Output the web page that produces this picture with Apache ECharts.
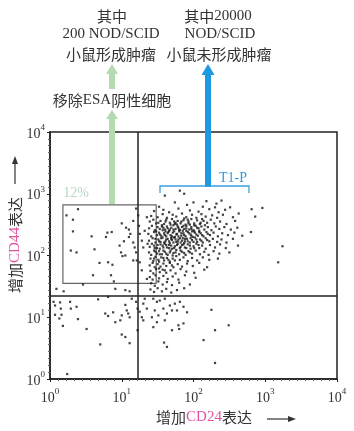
<!DOCTYPE html>
<html><head><meta charset="utf-8">
<script src="https://cdn.jsdelivr.net/npm/echarts@6/dist/echarts.min.js"></script>
<style>html,body{margin:0;padding:0;background:#fff}#c{width:354px;height:431px}</style>
</head><body><div id="c"></div>
<script>
// axis decades (log10 of fluorescence intensity)
var tickExponents = [0, 1, 2, 3, 4];
var quadrantCD24 = 1.22;   // log10 CD24 boundary (~16)
var quadrantCD44 = 1.35;   // log10 CD44 boundary (~22)
var gateBox = [[0.18, 1.55], [1.48, 2.82]]; // 12% gate (log10 CD24, log10 CD44)

// cells: [log10 CD24, log10 CD44]
var gateCells = [[0.39,2.75],[0.23,2.65],[0.32,2.58],[0.32,2.39],[0.58,2.31],[0.80,2.37],[0.86,2.38],[0.78,2.30],[0.62,2.10],[0.37,2.05],[0.29,2.08],[0.97,2.16],[1.00,2.52],[1.06,2.45],[1.10,2.42],[1.12,2.35],[1.10,2.30],[1.16,2.56],[1.16,2.21],[1.03,2.23],[0.99,2.05],[1.05,2.00],[1.18,2.13],[1.20,2.05],[1.23,2.65],[1.24,2.48],[1.25,2.35],[1.28,2.24],[1.32,2.40],[1.35,2.62],[1.36,2.19],[1.30,2.13],[1.20,2.76],[0.69,1.88],[0.81,1.89],[0.87,1.85],[0.60,1.68],[0.85,1.68],[0.89,1.58],[1.01,1.99],[1.16,1.92],[1.21,1.92],[1.28,1.76],[1.25,1.89],[1.35,1.62]];
var lowLeftCells = [[0.09,1.46],[0.19,1.42],[0.46,1.53],[0.91,1.46],[1.05,1.44],[1.11,1.42],[1.14,1.30],[0.67,1.29],[0.81,1.33],[0.05,1.25],[0.14,1.24],[0.07,1.19],[0.28,1.25],[0.15,1.14],[0.29,1.14],[0.37,1.17],[0.07,1.04],[0.16,1.04],[0.13,0.98],[0.39,0.97],[0.18,0.86],[0.51,0.81],[0.77,1.06],[0.81,1.02],[0.88,1.08],[0.91,0.92],[0.98,0.95],[1.00,1.03],[1.07,1.11],[1.09,1.06],[1.11,1.00],[1.05,1.20],[1.00,0.72],[1.05,0.68],[1.11,0.58],[0.70,0.56],[0.24,0.08]];
var lowRightCells = [[1.20,1.25],[1.22,1.14],[1.25,1.09],[1.28,1.00],[1.30,1.22],[1.35,1.14],[1.32,1.30],[1.22,0.79],[1.30,0.95],[1.44,1.30],[1.49,1.25],[1.53,1.27],[1.60,1.30],[1.67,1.19],[1.74,1.22],[1.81,1.25],[1.86,1.17],[1.58,1.14],[1.46,1.11],[1.42,1.00],[1.51,1.03],[1.63,1.06],[1.70,1.11],[1.77,1.11],[1.91,1.08],[1.49,0.92],[1.60,0.95],[1.86,0.90],[1.79,0.87],[2.25,1.12],[2.49,0.87],[1.44,0.84],[1.70,0.79],[1.80,0.81],[2.30,0.79],[1.59,0.59],[1.63,0.52],[2.14,0.63],[2.30,0.26]];
var sparseHighCells = [[2.81,2.75],[2.96,2.77],[2.86,2.63],[2.80,2.38],[3.24,2.15],[3.18,1.89],[1.81,3.05],[1.87,3.00],[1.60,2.97],[1.74,2.86],[1.91,2.82],[2.00,2.86],[2.18,2.88],[2.32,2.84],[2.39,2.89],[2.51,2.78],[2.30,2.78]];
var clusterCells = [
[1.45,2.72],[1.58,2.74],[1.66,2.70],[1.79,2.76],[1.95,2.73],[2.07,2.71],[2.22,2.75],[2.35,2.70],[2.44,2.74],[1.52,2.79],[2.13,2.79],
[1.41,2.64],[1.50,2.62],[1.57,2.67],[1.63,2.61],[1.71,2.66],[1.76,2.63],[1.84,2.68],[1.90,2.62],[1.98,2.66],[2.04,2.61],[2.11,2.67],[2.17,2.63],[2.26,2.65],[2.33,2.61],[2.41,2.66],[2.55,2.62],[2.63,2.68],[1.87,2.60],
[1.39,2.55],[1.44,2.58],[1.48,2.52],[1.54,2.56],[1.59,2.51],[1.62,2.58],[1.67,2.53],[1.70,2.59],[1.74,2.51],[1.78,2.56],[1.82,2.52],[1.86,2.57],[1.89,2.50],[1.93,2.55],[1.97,2.59],[2.01,2.52],[2.05,2.57],[2.09,2.51],[2.14,2.56],[2.19,2.53],[2.24,2.58],[2.29,2.52],[2.37,2.55],[2.46,2.51],[2.58,2.56],[1.73,2.55],[1.92,2.58],[2.12,2.59],
[1.38,2.44],[1.42,2.48],[1.46,2.41],[1.50,2.46],[1.53,2.43],[1.56,2.49],[1.60,2.42],[1.63,2.47],[1.66,2.40],[1.69,2.45],[1.72,2.49],[1.75,2.43],[1.78,2.47],[1.81,2.41],[1.84,2.46],[1.87,2.43],[1.90,2.48],[1.94,2.42],[1.97,2.46],[2.00,2.41],[2.03,2.48],[2.07,2.44],[2.11,2.47],[2.15,2.42],[2.20,2.46],[2.25,2.41],[2.31,2.47],[2.36,2.43],[2.43,2.46],[2.52,2.42],[2.61,2.45],[1.58,2.45],[1.77,2.50],[1.95,2.50],[2.08,2.40],
[1.37,2.35],[1.41,2.31],[1.45,2.38],[1.49,2.33],[1.52,2.37],[1.55,2.32],[1.59,2.36],[1.62,2.31],[1.65,2.38],[1.68,2.33],[1.71,2.37],[1.74,2.30],[1.77,2.35],[1.80,2.39],[1.83,2.32],[1.86,2.36],[1.89,2.31],[1.92,2.38],[1.96,2.34],[1.99,2.30],[2.02,2.37],[2.06,2.32],[2.10,2.36],[2.14,2.31],[2.18,2.38],[2.23,2.33],[2.28,2.37],[2.34,2.31],[2.40,2.36],[2.48,2.33],[2.57,2.37],[2.68,2.32],[1.61,2.39],[1.79,2.31],[1.98,2.39],[1.85,2.40],
[1.38,2.24],[1.43,2.28],[1.47,2.21],[1.51,2.26],[1.54,2.22],[1.57,2.29],[1.61,2.23],[1.64,2.27],[1.67,2.20],[1.70,2.25],[1.73,2.29],[1.76,2.22],[1.79,2.26],[1.82,2.21],[1.85,2.28],[1.88,2.23],[1.91,2.27],[1.95,2.21],[1.98,2.25],[2.02,2.29],[2.05,2.22],[2.09,2.26],[2.13,2.21],[2.17,2.28],[2.22,2.23],[2.27,2.27],[2.33,2.22],[2.39,2.26],[2.46,2.21],[2.55,2.27],[1.69,2.29],[1.87,2.20],
[1.39,2.14],[1.42,2.19],[1.46,2.12],[1.50,2.17],[1.53,2.11],[1.57,2.16],[1.60,2.19],[1.63,2.13],[1.66,2.17],[1.70,2.11],[1.74,2.15],[1.78,2.19],[1.81,2.12],[1.84,2.17],[1.88,2.13],[1.92,2.18],[1.96,2.11],[2.00,2.15],[2.04,2.19],[2.08,2.12],[2.12,2.16],[2.17,2.11],[2.23,2.17],[2.30,2.13],[2.37,2.18],[2.45,2.12],[2.62,2.16],
[1.38,2.05],[1.41,2.01],[1.45,2.08],[1.49,2.03],[1.52,2.07],[1.56,2.02],[1.60,2.06],[1.64,2.01],[1.68,2.08],[1.72,2.04],[1.76,2.09],[1.80,2.02],[1.84,2.06],[1.89,2.01],[1.93,2.07],[1.98,2.03],[2.03,2.08],[2.09,2.02],[2.15,2.06],[2.21,2.01],[2.28,2.07],[2.36,2.03],[2.50,2.05],
[1.40,1.95],[1.44,1.91],[1.47,1.98],[1.51,1.93],[1.55,1.97],[1.59,1.92],[1.63,1.96],[1.67,1.90],[1.71,1.95],[1.76,1.99],[1.81,1.93],[1.86,1.97],[1.92,1.91],[1.98,1.96],[2.05,1.92],[2.13,1.97],[2.22,1.93],[2.34,1.95],
[1.39,1.84],[1.43,1.88],[1.46,1.81],[1.50,1.86],[1.54,1.82],[1.58,1.87],[1.62,1.83],[1.67,1.88],[1.72,1.81],[1.78,1.86],[1.84,1.82],[1.91,1.87],[1.99,1.83],[2.08,1.88],[2.19,1.81],
[1.40,1.75],[1.44,1.71],[1.48,1.78],[1.53,1.73],[1.57,1.77],[1.62,1.72],[1.68,1.76],[1.75,1.71],[1.82,1.78],[1.90,1.74],[2.01,1.72],[2.15,1.77],
[1.39,1.65],[1.43,1.61],[1.47,1.68],[1.52,1.63],[1.58,1.67],[1.64,1.62],[1.71,1.66],[1.79,1.61],[1.88,1.68],[2.03,1.64],
[1.41,1.55],[1.46,1.51],[1.51,1.58],[1.57,1.53],[1.63,1.57],[1.70,1.52],[1.80,1.56],[1.95,1.53],
[1.40,1.45],[1.45,1.41],[1.50,1.47],[1.56,1.42],[1.62,1.46],[1.69,1.40],[1.77,1.44],[1.87,1.47]
];
// densest core of the CD44+/CD24+ population
var coreCells = [
[1.51,2.53],[1.56,2.47],[1.61,2.55],[1.64,2.44],[1.68,2.50],[1.72,2.42],[1.75,2.53],[1.79,2.45],[1.83,2.55],[1.86,2.48],[1.90,2.44],[1.93,2.52],[1.97,2.43],[2.01,2.49],[2.05,2.45],[2.10,2.53],[2.16,2.49],
[1.48,2.39],[1.53,2.34],[1.57,2.41],[1.60,2.33],[1.64,2.36],[1.67,2.42],[1.70,2.31],[1.73,2.39],[1.76,2.34],[1.80,2.42],[1.83,2.36],[1.87,2.33],[1.90,2.40],[1.94,2.36],[1.97,2.32],[2.01,2.39],[2.04,2.34],[2.08,2.38],[2.12,2.33],[2.20,2.35],
[1.47,2.27],[1.52,2.23],[1.55,2.28],[1.59,2.21],[1.62,2.26],[1.66,2.23],[1.69,2.27],[1.72,2.21],[1.75,2.26],[1.78,2.23],[1.81,2.28],[1.84,2.24],[1.88,2.27],[1.92,2.23],[1.96,2.28],[2.00,2.22],[2.04,2.26],[2.11,2.24],[2.19,2.25],
[1.45,2.16],[1.49,2.12],[1.54,2.18],[1.58,2.13],[1.62,2.17],[1.66,2.12],[1.69,2.16],[1.73,2.12],[1.77,2.17],[1.82,2.14],[1.86,2.18],[1.90,2.12],[1.95,2.16],[2.01,2.12],[2.07,2.17],
[1.47,2.06],[1.53,2.02],[1.58,2.08],[1.62,2.03],[1.67,2.05],[1.71,2.00],[1.75,2.05],[1.82,2.08],[1.87,2.04],[1.95,2.05],
[1.45,1.95],[1.52,1.90],[1.58,1.96],[1.65,1.93],[1.74,1.92],[1.52,1.79],[1.60,1.76],[1.70,1.84]
];
var allCells = gateCells.concat(lowLeftCells, lowRightCells, sparseHighCells, clusterCells, coreCells);

var SERIF = '"Liberation Serif","DejaVu Serif",serif';
var CJK = '"Noto Sans CJK SC","Noto Sans",sans-serif';

var chart = echarts.init(document.getElementById('c'), null, {renderer: 'canvas'});
function tickLabel(v) { return '{b|10}{s|' + v + '}'; }
var richTick = {
  b: {fontFamily: SERIF, fontSize: 14, color: '#333', lineHeight: 18, verticalAlign: 'bottom'},
  s: {fontFamily: SERIF, fontSize: 9, color: '#333', verticalAlign: 'top', lineHeight: 18}
};
var axisCommon = {
  type: 'value', min: 0, max: 4, interval: 1,
  axisLine: {show: true, onZero: false, lineStyle: {color: '#222', width: 1.5}},
  axisTick: {show: true, length: 3, lineStyle: {color: '#222'}},
  minorTick: {show: true, splitNumber: 9, length: 2, lineStyle: {color: '#666'}},
  splitLine: {show: false},
  axisLabel: {formatter: tickLabel, rich: richTick}
};
var head = function (x, y, dir, w, l) { // arrow head polygon
  if (dir === 'up') return [[x, y], [x - w, y + l], [x + w, y + l]];
  return [[x, y], [x - l, y - w], [x - l, y + w]];
};
function mixed(c, l) { return {c: {font: '15px ' + CJK, fill: '#333', lineHeight: 20}, l: {font: '15px ' + SERIF, fill: l || '#333', lineHeight: 20}}; }
chart.setOption({
  animation: false,
  grid: {left: 50, right: 17, top: 132, bottom: 52, show: true, borderColor: '#222', borderWidth: 1.5},
  xAxis: Object.assign({}, axisCommon, {axisLabel: {formatter: tickLabel, rich: richTick, margin: 8}}),
  yAxis: Object.assign({}, axisCommon, {axisLabel: {formatter: tickLabel, rich: richTick, margin: 5}}),
  series: [{
    type: 'scatter', data: allCells, symbol: 'rect', symbolSize: 2.2,
    itemStyle: {color: '#111'}, silent: true,
    markLine: {
      silent: true, symbol: 'none', label: {show: false},
      lineStyle: {color: '#222', width: 1.5, type: 'solid'},
      data: [{xAxis: quadrantCD24}, {yAxis: quadrantCD44}]
    },
    markArea: {
      silent: true, label: {show: false},
      itemStyle: {color: 'rgba(0,0,0,0)', borderColor: '#666', borderWidth: 1.2},
      data: [[{coord: gateBox[0]}, {coord: gateBox[1]}]]
    }
  }],
  graphic: [
    // green arrows (gate -> ESA removal -> tumours)
    {type: 'rect', shape: {x: 109, y: 116, width: 6, height: 88}, style: {fill: '#b3dab1'}, silent: true},
    {type: 'polygon', shape: {points: head(112, 110, 'up', 6, 9)}, style: {fill: '#b3dab1'}, silent: true},
    {type: 'rect', shape: {x: 109, y: 73, width: 6, height: 16}, style: {fill: '#b3dab1'}, silent: true},
    {type: 'polygon', shape: {points: head(112, 64, 'up', 6, 10)}, style: {fill: '#b3dab1'}, silent: true},
    // blue arrow
    {type: 'rect', shape: {x: 205, y: 74, width: 6, height: 113}, style: {fill: '#1e98e0'}, silent: true},
    {type: 'polygon', shape: {points: head(208, 64, 'up', 6.5, 11)}, style: {fill: '#1e98e0'}, silent: true},
    // T1-P bracket
    {type: 'polyline', shape: {points: [[160, 193], [160, 186], [249, 186], [249, 193]]}, style: {stroke: '#3aa0e0', lineWidth: 1.3, fill: null}, silent: true},
    {type: 'text', x: 233, y: 178, style: {text: 'T1-P', font: '14px ' + SERIF, fill: '#2f9be0', align: 'center', verticalAlign: 'middle'}, silent: true},
    {type: 'text', x: 76, y: 193, style: {text: '12%', font: '14px ' + SERIF, fill: '#b9d6c2', align: 'center', verticalAlign: 'middle'}, silent: true},
    // top texts
    {type: 'text', x: 112, y: 16, style: {text: '其中', font: '15px ' + CJK, fill: '#333', align: 'center', verticalAlign: 'middle'}, silent: true},
    {type: 'text', x: 111, y: 34, style: {text: '200 NOD/SCID', font: '15px ' + SERIF, fill: '#333', align: 'center', verticalAlign: 'middle'}, silent: true},
    {type: 'text', x: 111, y: 54, style: {text: '小鼠形成肿瘤', font: '15px ' + CJK, fill: '#333', align: 'center', verticalAlign: 'middle'}, silent: true},
    {type: 'text', x: 218, y: 16, style: {text: '{c|其中}{l|20000}', rich: mixed(), align: 'center', verticalAlign: 'middle'}, silent: true},
    {type: 'text', x: 220, y: 34, style: {text: 'NOD/SCID', font: '15px ' + SERIF, fill: '#333', align: 'center', verticalAlign: 'middle'}, silent: true},
    {type: 'text', x: 219, y: 54, style: {text: '小鼠未形成肿瘤', font: '15px ' + CJK, fill: '#333', align: 'center', verticalAlign: 'middle'}, silent: true},
    {type: 'text', x: 112, y: 100, style: {text: '{c|移除}{l|ESA}{c|阴性细胞}', rich: mixed(), align: 'center', verticalAlign: 'middle'}, silent: true},
    // x axis title
    {type: 'text', x: 204, y: 417, style: {text: '{c|增加}{l|CD24}{c|表达}', rich: mixed(null, '#e0559e'), align: 'center', verticalAlign: 'middle'}, silent: true},
    {type: 'line', shape: {x1: 267, y1: 419, x2: 289, y2: 419}, style: {stroke: '#333', lineWidth: 1.2}, silent: true},
    {type: 'polygon', shape: {points: head(296, 419, 'right', 3, 8)}, style: {fill: '#333'}, silent: true},
    // y axis title (rotated)
    {type: 'text', x: 15, y: 245, rotation: Math.PI / 2, style: {text: '{c|增加}{l|CD44}{c|表达}', rich: mixed(null, '#e0559e'), align: 'center', verticalAlign: 'middle'}, silent: true},
    {type: 'line', shape: {x1: 15, y1: 184, x2: 15, y2: 163}, style: {stroke: '#333', lineWidth: 1.2}, silent: true},
    {type: 'polygon', shape: {points: head(15, 156, 'up', 3, 8)}, style: {fill: '#333'}, silent: true}
  ]
});
</script></body></html>
